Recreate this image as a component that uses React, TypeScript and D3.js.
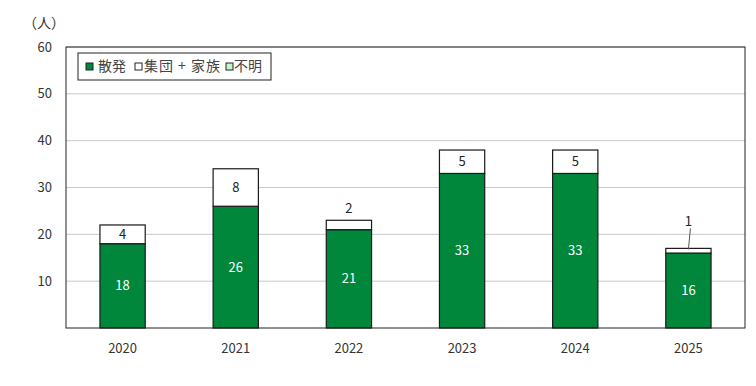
import { useEffect, useRef } from "react";
import * as d3 from "d3";

const years = ["2020", "2021", "2022", "2023", "2024", "2025"];
const sporadic = [18, 26, 21, 33, 33, 16];
const cluster = [4, 8, 2, 5, 5, 1];
const unknown = [0, 0, 0, 0, 0, 0];
const yTicks = [10, 20, 30, 40, 50, 60];
const legendNames = ["散発", "集団 + 家族", "不明"];
const colors = ["#00873c", "#ffffff", "#c6f5c6"];

const FONT = "'Noto Sans CJK JP', 'Noto Sans', sans-serif";

const App = () => {
  const svgRef = useRef<SVGSVGElement>(null);

  useEffect(() => {
    const svg = d3.select(svgRef.current);
    svg.selectAll("*").remove();

    const margin = { top: 47, right: 11, bottom: 58, left: 66 };
    const W = 756, H = 386;
    const width = W - margin.left - margin.right;
    const height = H - margin.top - margin.bottom;

    const g = svg.append("g").attr("transform", `translate(${margin.left},${margin.top})`);

    const x = d3.scaleBand().domain(years).range([0, width]).paddingInner(0.6).paddingOuter(0.3);
    const y = d3.scaleLinear().domain([0, 60]).range([height, 0]);

    // gridlines
    g.selectAll(".grid")
      .data(yTicks)
      .enter()
      .append("line")
      .attr("x1", 0)
      .attr("x2", width)
      .attr("y1", (d) => y(d))
      .attr("y2", (d) => y(d))
      .attr("stroke", "#c8c8c8")
      .attr("stroke-width", 1);

    // y labels
    g.selectAll(".ylab")
      .data(yTicks)
      .enter()
      .append("text")
      .attr("x", -14)
      .attr("y", (d) => y(d))
      .attr("dy", "0.35em")
      .attr("text-anchor", "end")
      .attr("font-size", 13)
      .attr("font-family", FONT)
      .attr("fill", "#333")
      .text((d) => d);

    svg.append("text")
      .attr("x", 44)
      .attr("y", 28)
      .attr("text-anchor", "middle")
      .attr("font-size", 14)
      .attr("font-family", FONT)
      .attr("fill", "#333")
      .text("（人）");

    const rows = years.map((yr, i) => ({ yr, a: sporadic[i], b: cluster[i], c: unknown[i] }));
    const stack = d3.stack<any>().keys(["a", "b", "c"])(rows);

    stack.forEach((layer, li) => {
      g.selectAll(`.bar${li}`)
        .data(layer.filter((d) => d[1] - d[0] > 0))
        .enter()
        .append("rect")
        .attr("x", (d) => x(d.data.yr)!)
        .attr("width", x.bandwidth())
        .attr("y", (d) => y(d[1]))
        .attr("height", (d) => y(d[0]) - y(d[1]))
        .attr("fill", colors[li])
        .attr("stroke", "#1a1a1a")
        .attr("stroke-width", 1.2);
    });

    // labels for sporadic (white, inside)
    stack[0].forEach((d) => {
      g.append("text")
        .attr("x", x(d.data.yr)! + x.bandwidth() / 2)
        .attr("y", y((d[0] + d[1]) / 2))
        .attr("dy", "0.35em")
        .attr("text-anchor", "middle")
        .attr("font-size", 13)
        .attr("font-family", FONT)
        .attr("fill", "#fff")
        .text(d[1] - d[0]);
    });

    // labels for cluster
    stack[1].forEach((d) => {
      const v = d[1] - d[0];
      const cx = x(d.data.yr)! + x.bandwidth() / 2;
      let ly = y((d[0] + d[1]) / 2);
      if (v === 2) ly = y(d[1]) - 12;
      if (v === 1) {
        ly = y(d[1]) - 27;
        g.append("line")
          .attr("x1", cx)
          .attr("y1", y(d[1]) + 1)
          .attr("x2", cx + 2)
          .attr("y2", ly + 7)
          .attr("stroke", "#555")
          .attr("stroke-width", 1);
      }
      g.append("text")
        .attr("x", cx)
        .attr("y", ly)
        .attr("dy", "0.35em")
        .attr("text-anchor", "middle")
        .attr("font-size", 13)
        .attr("font-family", FONT)
        .attr("fill", "#222")
        .text(v);
    });

    // frame
    g.append("rect")
      .attr("x", 0)
      .attr("y", 0)
      .attr("width", width)
      .attr("height", height)
      .attr("fill", "none")
      .attr("stroke", "#222")
      .attr("stroke-width", 1);

    // x labels
    g.selectAll(".xlab")
      .data(years)
      .enter()
      .append("text")
      .attr("x", (d) => x(d)! + x.bandwidth() / 2)
      .attr("y", height + 20)
      .attr("dy", "0.35em")
      .attr("text-anchor", "middle")
      .attr("font-size", 13)
      .attr("font-family", FONT)
      .attr("fill", "#333")
      .text((d) => d);

    // legend
    const lg = svg.append("g").attr("transform", "translate(78,53)");
    lg.append("rect")
      .attr("width", 193)
      .attr("height", 27)
      .attr("fill", "#fff")
      .attr("stroke", "#222")
      .attr("stroke-width", 1);
    const boxX = [8, 57, 148];
    const textX = [20, 66, 156];
    legendNames.forEach((name, i) => {
      lg.append("rect")
        .attr("x", boxX[i])
        .attr("y", 10)
        .attr("width", 7)
        .attr("height", 7)
        .attr("fill", colors[i])
        .attr("stroke", "#222")
        .attr("stroke-width", 1);
      const t = lg.append("text")
        .attr("x", textX[i])
        .attr("y", 13.5)
        .attr("dy", "0.35em")
        .attr("font-size", 14)
        .attr("font-family", FONT)
        .attr("fill", "#444")
        .text(name);
      if (i === 1) t.attr("textLength", 76).attr("lengthAdjust", "spacing");
    });
  }, []);

  return <svg ref={svgRef} width={756} height={386} style={{ display: "block", margin: "-8px" }}></svg>;
};

export default App;
